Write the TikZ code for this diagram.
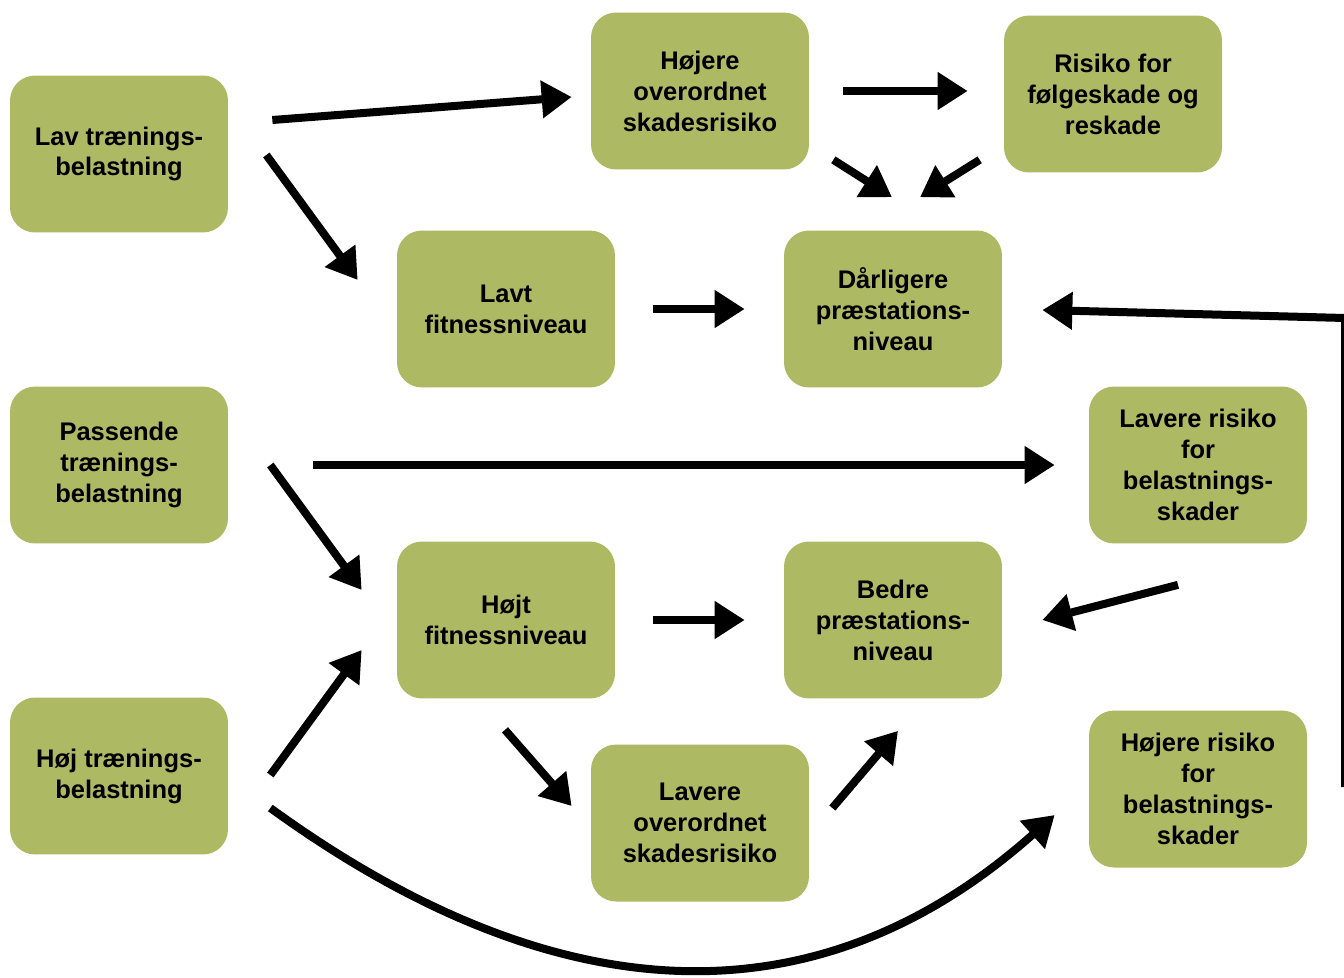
\documentclass[tikz,border=0pt]{standalone}
\usepackage{fontspec}
\setmainfont{Liberation Sans}
\usetikzlibrary{arrows.meta,calc}
\definecolor{boksgroen}{RGB}{174,185,100}
\tikzset{
  boks/.style={fill=boksgroen, rounded corners=0.5cm, minimum width=4.36cm,
    minimum height=3.14cm, align=center, inner sep=2pt,
    font=\bfseries\fontsize{14.5}{17.6}\selectfont},
  pil/.style={line width=0.16cm, -{Triangle[length=0.6cm,width=0.72cm]}}
}
\begin{document}
\begin{tikzpicture}[x=0.02cm, y=-0.02cm]
    \useasboundingbox (0,0) rectangle (1344,977);
    \clip (0,0) rectangle (1344,977);

    % Belastning (venstre kolonne)
    \node[boks] (lavBel)  at (119,154) {Lav trænings-\\belastning};
    \node[boks] (passBel) at (119,465) {Passende\\trænings-\\belastning};
    \node[boks] (hojBel)  at (119,776) {Høj trænings-\\belastning};

    % Fitness og skadesrisiko
    \node[boks] (hojOver) at (700,91)  {Højere\\overordnet\\skadesrisiko};
    \node[boks] (risiko)  at (1113,94) {Risiko for\\følgeskade og\\reskade};
    \node[boks] (lavtFit) at (506,309) {Lavt\\fitnessniveau};
    \node[boks] (darlig)  at (893,309) {Dårligere\\præstations-\\niveau};
    \node[boks] (lavRisiko) at (1198,465) {Lavere risiko\\for\\belastnings-\\skader};
    \node[boks] (hojtFit) at (506,620) {Højt\\fitnessniveau};
    \node[boks] (bedre)   at (893,620) {Bedre\\præstations-\\niveau};
    \node[boks] (lavOver) at (700,823) {Lavere\\overordnet\\skadesrisiko};
    \node[boks] (hojRisiko) at (1198,789) {Højere risiko\\for\\belastnings-\\skader};

    % Pile fra lav belastning
    \draw[pil] ($(lavBel.east)+(44,-34)$) -- ($(hojOver.west)+(-19,6)$);
    \draw[pil] ($(lavBel.east)+(38,1)$) -- ($(lavtFit.west)+(-39,-29)$);
    \draw[pil] ($(hojOver.east)+(34,0)$) -- ($(risiko.west)+(-36,-3)$);
    \draw[pil] ($(hojOver.south east)+(24,-10)$) -- ($(darlig.north)+(-1,-33)$);
    \draw[pil] ($(risiko.south west)+(-24,-13)$) -- ($(darlig.north)+(27,-33)$);
    \draw[pil] ($(lavtFit.east)+(38,0)$) -- ($(darlig.west)+(-39,0)$);

    % Tilbage fra højre kant
    \coordinate (kant) at (1345,787);
    \coordinate (hjorne) at (1345,318);
    \draw[pil] (kant) -- (hjorne) -- ($(darlig.east)+(40,1)$);

    % Pile fra passende belastning
    \draw[pil] ($(passBel.east)+(85,0)$) -- ($(lavRisiko.west)+(-34,0)$);
    \draw[pil] ($(passBel.east)+(42,0)$) -- ($(hojtFit.west)+(-35,-30)$);
    \draw[pil] ($(hojtFit.east)+(38,0)$) -- ($(bedre.west)+(-39,0)$);
    \draw[pil] ($(lavRisiko.south)+(-20,41)$) -- ($(bedre.east)+(40,0)$);
    \draw[pil] ($(hojtFit.south)+(-1,31)$) -- ($(lavOver.west)+(-19,-17)$);
    \draw[pil] ($(lavOver.east)+(23,-15)$) -- ($(bedre.south)+(5,32)$);

    % Pile fra høj belastning
    \draw[pil] ($(hojBel.east)+(42,-1)$) -- ($(hojtFit.west)+(-35,30)$);
    \draw[pil] ($(hojBel.east)+(42,32)$) .. controls (560,1018) and (820,1024) .. ($(hojRisiko.west)+(-34,26)$);
\end{tikzpicture}
\end{document}
